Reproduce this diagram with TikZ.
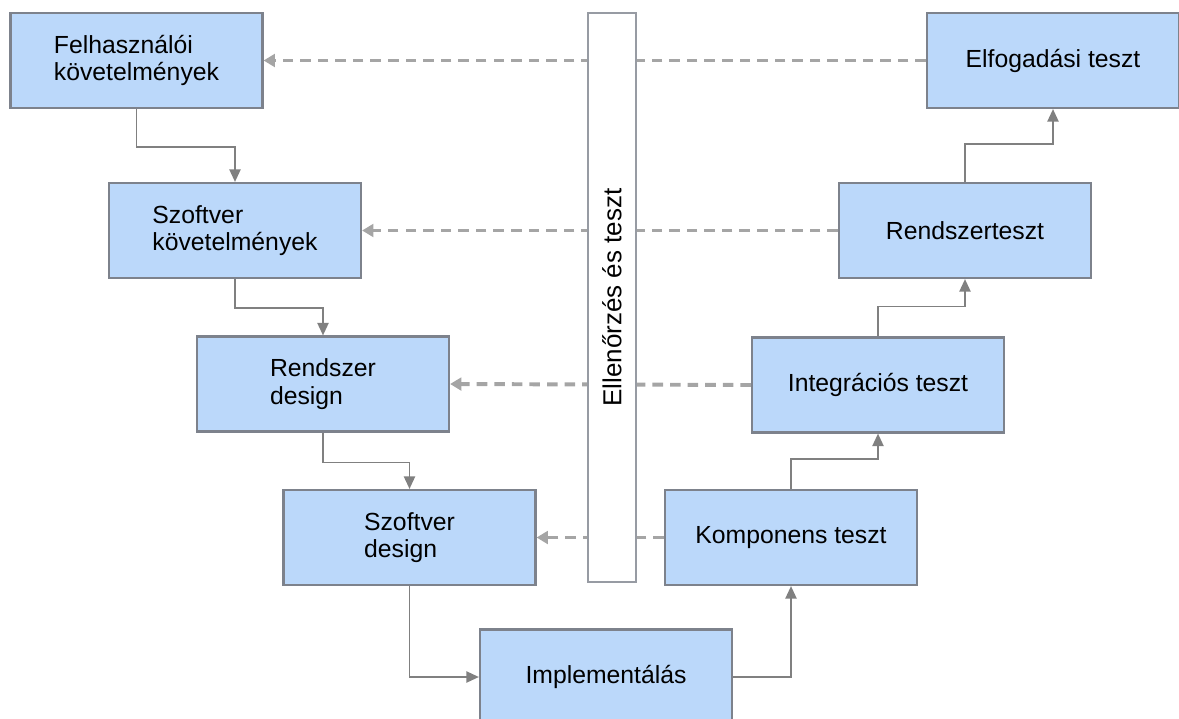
\documentclass[tikz,border=0pt]{standalone}
\usepackage{fontspec}
\setmainfont{Liberation Sans}
\usetikzlibrary{arrows.meta}
\definecolor{boxblue}{RGB}{187,216,250}
\definecolor{boxedge}{RGB}{125,130,140}
\definecolor{flowgray}{RGB}{128,128,128}
\definecolor{dashgray}{RGB}{165,165,165}
\begin{document}
\begin{tikzpicture}[x=0.025cm, y=-0.025cm,
  box/.style={rectangle, draw=boxedge, line width=1.5pt, fill=boxblue,
    minimum width=6.3cm, minimum height=2.375cm, align=left,
    font=\fontsize{17.6}{19.5}\selectfont},
  bar/.style={rectangle, draw=boxedge!80, line width=1.5pt, fill=white,
    minimum width=14.2cm, minimum height=1.2cm,
    font=\fontsize{18.5}{20}\selectfont},
  flow/.style={draw=flowgray, line width=1.3pt, -{Triangle[length=9pt,width=8pt]}},
  check/.style={draw=dashgray, line width=2.8pt, dash pattern=on 7.5pt off 5pt,
    -{Triangle[length=8pt,width=9pt]}}]
  \useasboundingbox (0,0) rectangle (1179,718);
  \clip (0,0) rectangle (1179,718);
  % left side
  \node[box] (felh)  at (136.5,60.5)  {Felhasználói\\követelmények};
  \node[box] (szkov) at (235,230.5)   {Szoftver\\követelmények};
  \node[box] (rdes)  at (323,384)     {Rendszer\\design};
  \node[box] (szdes) at (409.5,537.5) {Szoftver\\design};
  % bottom
  \node[box] (impl)  at (606,677)     {Implementálás};
  % right side
  \node[box] (komp)  at (791,537.5)   {Komponens teszt};
  \node[box] (integ) at (878,385)     {Integrációs teszt};
  \node[box] (rsz)   at (965,230.5)   {Rendszerteszt};
  \node[box] (elf)   at (1053,60.5)   {Elfogadási teszt};

  \foreach \l/\r in {felh/elf, szkov/rsz, rdes/integ, szdes/komp} {
    \draw[check] (\r.west) -- (\l.east);
  }
  \node[bar, rotate=90] (bar) at (612,297.5) {Ellenőrzés és teszt};

  \draw[flow] (felh.south) -- ++(0,38) -| (szkov.north);
  \draw[flow] (szkov.south) -- ++(0,29) -| (rdes.north);
  \draw[flow] (rdes.south) -- ++(0,30) -| (szdes.north);
  \draw[flow] (szdes.south) |- (impl.west);
  \draw[flow] (impl.east) -| (komp.south);
  \draw[flow] (komp.north) -- ++(0,-30) -| (integ.south);
  \draw[flow] (integ.north) -- ++(0,-30) -| (rsz.south);
  \draw[flow] (rsz.north) -- ++(0,-38) -| (elf.south);
\end{tikzpicture}
\end{document}
